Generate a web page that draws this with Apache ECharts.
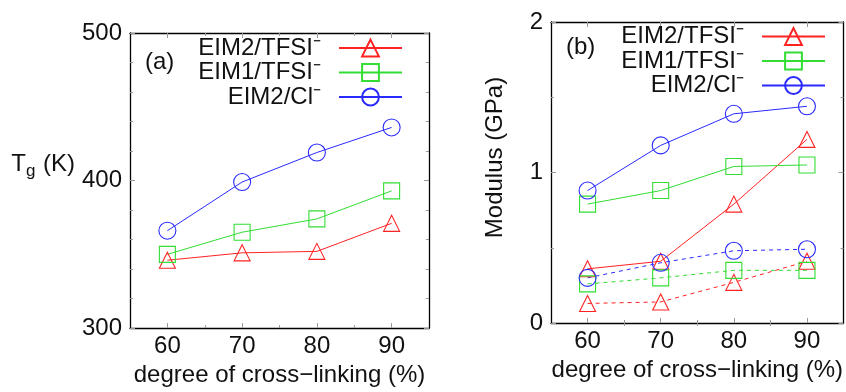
<!DOCTYPE html>
<html>
<head>
<meta charset="utf-8">
<script src="https://cdn.jsdelivr.net/npm/echarts@6/dist/echarts.min.js"></script>
<style>
  html, body { margin: 0; padding: 0; background: #fff; }
  #chart { width: 846px; height: 392px; }
</style>
</head>
<body>
<div id="chart"></div>
<script>
// cross-linking degree (%)
const crossLink = [60, 70, 80, 90];
const seriesNames = ['EIM2/TFSI\u207B', 'EIM1/TFSI\u207B', 'EIM2/Cl\u207B'];

// (a) glass transition temperature, K
const tgEIM2TFSI = [346, 351, 352, 371];
const tgEIM1TFSI = [350, 365, 374, 393];
const tgEIM2Cl = [366, 399, 419, 436];

// (b) modulus, GPa (solid)
const modEIM2TFSI = [0.36, 0.41, 0.79, 1.22];
const modEIM1TFSI = [0.79, 0.88, 1.04, 1.05];
const modEIM2Cl = [0.88, 1.18, 1.39, 1.44];
// (b) modulus, GPa (dashed)
const modEIM2TFSIb = [0.13, 0.14, 0.27, 0.41];
const modEIM1TFSIb = [0.26, 0.30, 0.35, 0.35];
const modEIM2Clb = [0.30, 0.40, 0.48, 0.49];

const xMajor = [60, 70, 80, 90];
const xMinor = [65, 75, 85];

const RED = '#ff2222';
const GREEN = '#33dd33';
const BLUE = '#2a2aff';
const FONT = 'Liberation Sans';
const FS = 24;

const chart = echarts.init(document.getElementById('chart'));

function pairs(ys) {
    return crossLink.map((x, i) => [x, ys[i]]);
}

function xAxes(gridIndex) {
    const base = {
        type: 'value',
        gridIndex: gridIndex,
        min: 55,
        max: 95,
        splitLine: { show: false },
        axisLine: { show: true, onZero: false, lineStyle: { color: '#000', width: 1.3 } }
    };
    return [
        Object.assign({}, base, {
            position: 'bottom',
            name: 'degree of cross\u2212linking (%)',
            nameLocation: 'middle',
            nameGap: 32,
            nameTextStyle: { fontFamily: FONT, fontSize: FS, color: '#111' },
            axisTick: { show: true, inside: true, length: 5, customValues: xMajor, lineStyle: { color: '#999' } },
            axisLabel: { show: true, margin: 6, customValues: xMajor, fontFamily: FONT, fontSize: FS, color: '#111' }
        }),
        Object.assign({}, base, {
            position: 'top',
            axisTick: { show: true, inside: true, length: 5, customValues: xMajor, lineStyle: { color: '#999' } },
            axisLabel: { show: false }
        }),
        Object.assign({}, base, {
            position: 'bottom',
            axisLine: { show: false },
            axisTick: { show: true, inside: true, length: 3, customValues: xMinor, lineStyle: { color: '#999' } },
            axisLabel: { show: false }
        }),
        Object.assign({}, base, {
            position: 'top',
            axisLine: { show: false },
            axisTick: { show: true, inside: true, length: 3, customValues: xMinor, lineStyle: { color: '#999' } },
            axisLabel: { show: false }
        })
    ];
}

function yAxes(gridIndex, min, max, interval, minorSplit, name, nameOpts) {
    const base = {
        type: 'value',
        gridIndex: gridIndex,
        min: min,
        max: max,
        interval: interval,
        splitLine: { show: false },
        axisLine: { show: true, onZero: false, lineStyle: { color: '#000', width: 1.3 } },
        axisTick: { show: true, inside: true, length: 5, lineStyle: { color: '#999' } },
        minorTick: { show: true, splitNumber: minorSplit, length: 3, lineStyle: { color: '#999' } }
    };
    return [
        Object.assign({}, base, {
            position: 'left',
            name: name,
            nameLocation: 'middle',
            axisLabel: { show: true, margin: 8, fontFamily: FONT, fontSize: FS, color: '#111' }
        }, nameOpts),
        Object.assign({}, base, {
            position: 'right',
            axisLabel: { show: false }
        })
    ];
}

function lineSeries(name, xi, yi, ys, color, symbol, size, dashed) {
    return {
        name: name,
        type: 'line',
        xAxisIndex: xi,
        yAxisIndex: yi,
        data: pairs(ys),
        symbol: symbol,
        symbolSize: size,
        showSymbol: true,
        animation: false,
        lineStyle: { color: color, width: 1, type: dashed ? [4, 4] : 'solid' },
        itemStyle: { color: 'transparent', borderColor: color, borderWidth: 1.1 },
        emphasis: { disabled: true }
    };
}

const legendBase = {
    orient: 'vertical',
    align: 'right',
    padding: 0,
    itemWidth: 63,
    itemHeight: 21,
    itemGap: 0.5,
    selectedMode: false,
    textStyle: { fontFamily: FONT, fontSize: FS, color: '#111', lineHeight: 24, padding: [0, 13, 0, 0] },
    data: seriesNames
};

const option = {
    backgroundColor: '#fff',
    animation: false,
    title: [
        { text: '(a)', left: 145, top: 50, padding: 0, textStyle: { fontFamily: FONT, fontSize: FS, fontWeight: 'normal', color: '#111' } },
        { text: '(b)', left: 566, top: 35, padding: 0, textStyle: { fontFamily: FONT, fontSize: FS, fontWeight: 'normal', color: '#111' } }
    ],
    legend: [
        Object.assign({}, legendBase, { right: 443, top: 36 }),
        Object.assign({}, legendBase, { right: 20, top: 24.5 })
    ],
    grid: [
        { left: 130, top: 33, width: 299, height: 300 },
        { left: 551, top: 22, width: 303, height: 301 }
    ],
    xAxis: xAxes(0).concat(xAxes(1)),
    yAxis: yAxes(0, 300, 500, 100, 5, '{a|T}{b|g}{a| (K)}', {
        nameRotate: 0,
        nameGap: 55,
        nameTextStyle: {
            padding: [0, 0, 32, 0],
            rich: {
                a: { fontFamily: FONT, fontSize: FS, color: '#111' },
                b: { fontFamily: FONT, fontSize: 17, color: '#111', padding: [14, 1, 0, 0] }
            }
        }
    }).concat(yAxes(1, 0, 2, 1, 2, 'Modulus (GPa)', {
        nameGap: 44,
        nameTextStyle: { fontFamily: FONT, fontSize: FS, color: '#111', padding: [0, 0, 0, 30] }
    })),
    series: [
        lineSeries(seriesNames[0], 0, 0, tgEIM2TFSI, RED, 'triangle', 16, false),
        lineSeries(seriesNames[1], 0, 0, tgEIM1TFSI, GREEN, 'rect', 16, false),
        lineSeries(seriesNames[2], 0, 0, tgEIM2Cl, BLUE, 'circle', 17, false),
        lineSeries(seriesNames[0], 4, 2, modEIM2TFSI, RED, 'triangle', 16, false),
        lineSeries(seriesNames[1], 4, 2, modEIM1TFSI, GREEN, 'rect', 16, false),
        lineSeries(seriesNames[2], 4, 2, modEIM2Cl, BLUE, 'circle', 17, false),
        lineSeries('EIM2/TFSI dashed', 4, 2, modEIM2TFSIb, RED, 'triangle', 16, true),
        lineSeries('EIM1/TFSI dashed', 4, 2, modEIM1TFSIb, GREEN, 'rect', 16, true),
        lineSeries('EIM2/Cl dashed', 4, 2, modEIM2Clb, BLUE, 'circle', 17, true)
    ]
};

chart.setOption(option);
</script>
</body>
</html>
